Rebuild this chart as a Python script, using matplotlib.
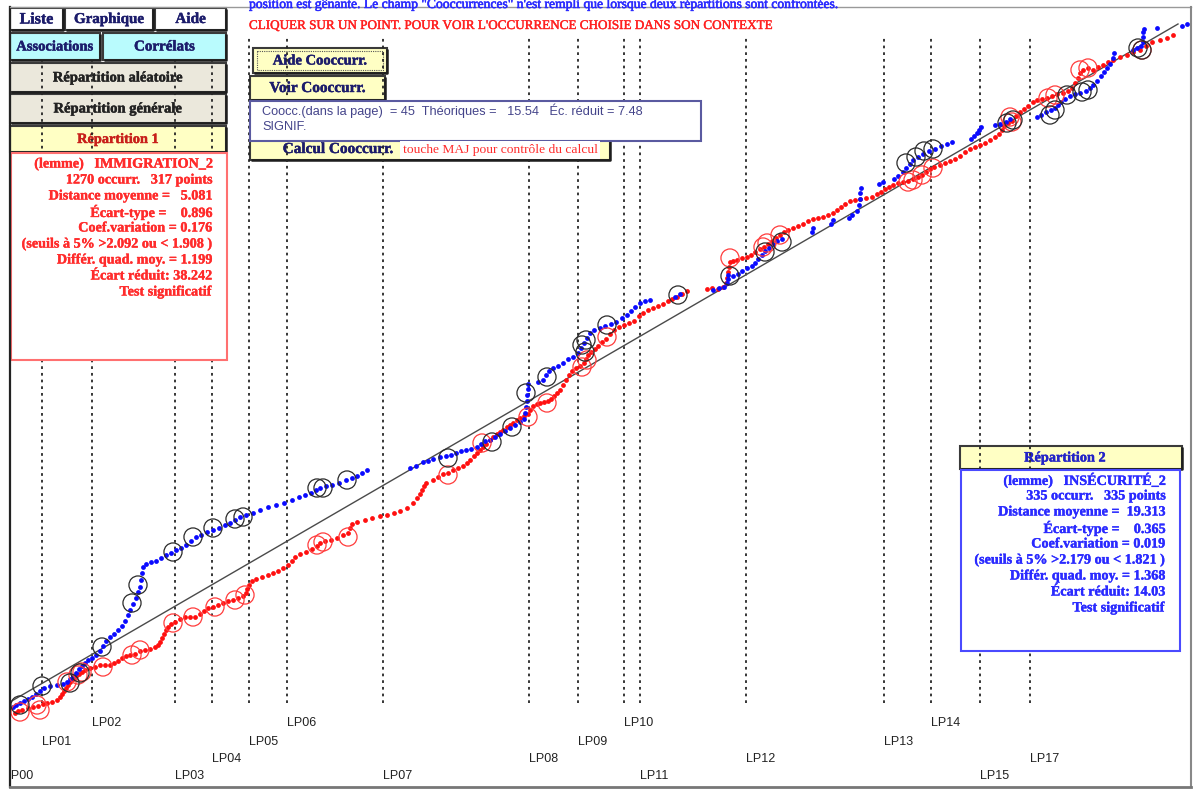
import numpy as np
import matplotlib
matplotlib.use("Agg")
import matplotlib.pyplot as plt
from matplotlib.patches import Rectangle
import matplotlib.patheffects as pe

# ---------------------------------------------------------------------------
# Data: position in the corpus (text units) and cumulative rank of each occurrence
# ---------------------------------------------------------------------------
# INSÉCURITÉ_2 (blue series)
insec_pos = [3, 6, 10, 14, 18, 22, 26, 30, 34, 40, 47, 53, 57, 60, 63, 66, 69, 72, 75, 78,
             82, 86, 90, 93, 96, 100, 104, 108, 112, 115, 118, 120, 123, 126, 128, 130, 131, 132,
             133, 136, 141, 146, 151, 156, 161, 166, 171, 176, 181, 186, 191, 197, 203, 209, 215,
             220, 225, 230, 236, 243, 250, 258, 266, 274, 282, 289, 295, 301, 306, 310, 316, 322,
             329, 336, 342, 347, 352, 357, 400, 406, 413, 418, 423, 430, 436, 441, 446, 451, 456,
             461, 467, 471, 475, 480, 485, 490, 495, 500, 505, 510, 514, 515, 516, 517, 517, 518,
             518, 528, 533, 536, 539, 543, 548, 553, 558, 563, 568, 571, 574, 577, 580, 584, 590,
             595, 601, 606, 612, 617, 621, 625, 630, 635, 640, 665, 670, 703, 709, 714, 717, 718,
             718, 723, 728, 732, 737, 742, 745, 748, 752, 755, 759, 763, 767, 772, 802, 803, 821,
             823, 839, 842, 847, 849, 850, 850, 851, 869, 873, 884, 888, 893, 896, 900, 903, 908,
             913, 919, 925, 931, 937, 942, 961, 964, 967, 969, 971, 985, 990, 996, 1000, 1027,
             1031, 1036, 1041, 1045, 1048, 1051, 1055, 1060, 1065, 1070, 1076, 1080, 1083, 1087,
             1091, 1094, 1097, 1100, 1103, 1104, 1123, 1127, 1131, 1133, 1133, 1133, 1134, 1147,
             1172, 1177]
insec_rank = [7, 9, 11, 13, 15, 17, 20, 23, 26, 28, 29, 30, 32, 35, 38, 41, 45, 48, 51, 54,
              56, 59, 63, 68, 73, 77, 80, 84, 88, 93, 99, 104, 110, 116, 122, 127, 134, 141,
              147, 150, 152, 153, 156, 159, 161, 164, 166, 169, 173, 177, 179, 182, 184, 186, 189,
              191, 194, 197, 199, 201, 204, 207, 209, 211, 214, 217, 219, 221, 224, 226, 228, 229,
              231, 234, 236, 238, 241, 244, 246, 248, 252, 253, 255, 257, 258, 259, 261, 263, 264,
              265, 267, 270, 273, 274, 277, 280, 283, 286, 289, 292, 295, 301, 307, 313, 319, 325,
              330, 332, 334, 339, 343, 346, 348, 351, 355, 357, 361, 366, 371, 376, 381, 384, 386,
              388, 390, 392, 396, 399, 403, 407, 411, 413, 414, 417, 420, 424, 426, 427, 431, 435,
              439, 438, 440, 443, 446, 448, 451, 455, 459, 463, 466, 470, 473, 475, 482, 486, 490,
              494, 496, 499, 503, 509, 515, 521, 526, 530, 532, 535, 538, 542, 546, 550, 554, 557,
              560, 563, 565, 568, 570, 572, 575, 578, 581, 584, 587, 589, 590, 592, 595, 597,
              599, 602, 604, 606, 609, 612, 615, 618, 620, 621, 623, 626, 629, 633,
              638, 642, 646, 650, 656, 661, 664, 666, 668, 672, 677, 682, 685, 686,
              688, 690]

# IMMIGRATION_2 (red series)
immig_pos = [5, 8, 12, 18, 23, 28, 33, 37, 42, 47, 50, 52, 54, 56, 58, 60, 63, 66, 69, 72,
             75, 80, 85, 90, 95, 100, 104, 108, 112, 116, 120, 125, 130, 135, 140, 145, 148, 150,
             152, 154, 156, 158, 161, 165, 170, 175, 180, 185, 190, 194, 198, 203, 208, 213, 218,
             223, 228, 233, 236, 237, 239, 242, 246, 252, 258, 263, 268, 273, 278, 282, 285, 290,
             296, 302, 307, 310, 315, 321, 327, 333, 338, 340, 342, 347, 355, 362, 370, 377, 384,
             390, 397, 403, 407, 410, 412, 414, 416, 423, 428, 433, 438, 443, 448, 453, 457, 460,
             464, 467, 470, 473, 476, 480, 483, 487, 490, 493, 497, 500, 503, 507, 510, 514, 518,
             520, 523, 527, 530, 534, 538, 541, 544, 547, 550, 553, 556, 559, 562, 566, 570, 574,
             576, 578, 581, 585, 588, 592, 596, 600, 604, 609, 614, 619, 624, 629, 633, 638, 643,
             648, 653, 658, 662, 667, 672, 677, 697, 702, 708, 713, 716, 717, 718, 719, 720, 723,
             727, 732, 737, 741, 745, 750, 754, 758, 762, 766, 770, 774, 778, 783, 788, 793, 798,
             803, 808, 813, 818, 823, 827, 831, 835, 840, 845, 850, 856, 862, 867, 871, 875, 879,
             883, 888, 893, 898, 903, 908, 912, 916, 920, 924, 930, 935, 940, 945, 950, 955, 960,
             965, 970, 975, 980, 985, 989, 992, 994, 998, 1002, 1006, 1010, 1014, 1018, 1023,
             1027, 1032, 1037, 1042, 1047, 1053, 1058, 1062, 1065, 1068, 1070, 1073, 1078, 1083,
             1088, 1093, 1098, 1103, 1110, 1117, 1123, 1130, 1136, 1142, 1150, 1157, 1163]
immig_rank = [1, 3, 4, 6, 7, 8, 10, 11, 12, 14, 17, 20, 23, 26, 29, 32, 35, 38, 40, 42,
              44, 46, 47, 49, 49, 49, 51, 53, 56, 58, 59, 60, 63, 64, 65, 67, 69, 72,
              76, 80, 84, 87, 90, 92, 95, 97, 97, 97, 100, 103, 106, 107, 109, 111, 113,
              114, 116, 118, 121, 125, 129, 133, 135, 137, 139, 141, 143, 146, 149, 153, 157, 160,
              162, 165, 168, 171, 173, 174, 176, 179, 181, 186, 190, 192, 194, 196, 198, 199, 201,
              203, 206, 211, 216, 220, 224, 228, 231, 234, 237, 240, 241, 244, 246, 248, 251, 254,
              258, 261, 264, 267, 270, 274, 277, 280, 282, 284, 287, 289, 291, 294, 296, 298, 300,
              304, 308, 310, 311, 312, 313, 315, 318, 321, 324, 329, 334, 339, 343, 346, 348, 351,
              355, 359, 362, 365, 368, 372, 375, 380, 384, 387, 389, 391, 393, 398, 401, 404, 406,
              408, 410, 413, 415, 417, 420, 423, 425, 426, 425, 427, 431, 436, 442, 447, 452, 453,
              454, 456, 457, 459, 462, 465, 467, 470, 473, 476, 479, 482, 484, 486, 488, 490, 493,
              495, 496, 497, 499, 501, 504, 507, 510, 513, 514, 515, 516, 517, 520, 522, 525, 527,
              529, 531, 532, 533, 535, 537, 539, 542, 545, 547, 549, 551, 553, 555, 558, 562,
              565, 567, 569, 571, 574, 577, 580, 584, 588, 591, 593, 598, 602, 605, 608, 612,
              614, 615, 616, 618, 620, 621, 623, 626, 631, 636, 641, 644, 646, 644,
              647, 649, 652, 654, 657, 659, 662, 664, 668, 672, 674, 676, 679]

# Co-occurrences (circled points)
cooc_insec_pos = [10, 32, 60, 70, 92, 122, 128, 163, 183, 203, 225, 233, 307, 313, 337, 438, 482,
                  502, 516, 537, 572, 576, 575, 597, 668, 720, 755, 772, 896, 906, 914, 923, 997,
                  1003, 1040, 1045, 1057, 1072, 1078, 1128, 1132]
cooc_insec_rank = [9, 28, 31, 41, 67, 111, 129, 162, 177, 186, 195, 197, 226, 226, 234, 256, 272,
                   287, 321, 337, 369, 374, 362, 389, 419, 438, 462, 472, 551, 557, 563, 565, 591,
                   594, 599, 604, 619, 622, 624, 666, 664]
cooc_immig_pos = [10, 27, 30, 57, 68, 72, 93, 122, 130, 163, 183, 205, 225, 235, 307, 313, 338,
                  438, 472, 518, 537, 572, 577, 597, 720, 753, 757, 770, 898, 903, 912, 923, 1000,
                  1002, 1038, 1045, 1070, 1078, 1132]
cooc_immig_rank = [2, 9, 4, 32, 39, 42, 47, 59, 64, 91, 97, 107, 114, 119, 169, 172, 177,
                   239, 271, 297, 311, 347, 354, 377, 456, 467, 471, 479, 532, 534, 539, 546, 597,
                   592, 616, 619, 644, 646, 664]

# Uniform (theoretical) distribution
ref_pos = [0, 1168]
ref_rank = [12, 690]

# Speech boundaries and their labels
section_pos = [0, 32, 82, 165, 202, 239, 277, 373, 519, 568, 614, 630, 736, 874, 921, 970, 1020]
section_labels = ["LP00", "LP01", "LP02", "LP03", "LP04", "LP05", "LP06", "LP07", "LP08",
                  "LP09", "LP10", "LP11", "LP12", "LP13", "LP14", "LP15", "LP17"]
section_row = [3, 1, 0, 3, 2, 1, 0, 3, 2, 1, 0, 3, 2, 1, 0, 3, 2]

stats_immig = ["(lemme)   IMMIGRATION_2", "1270 occurr.   317 points",
               "Distance moyenne =   5.081", "Écart-type =    0.896",
               "Coef.variation = 0.176", "(seuils à 5% >2.092 ou < 1.908 )",
               "Différ. quad. moy. = 1.199", "Écart réduit: 38.242", "Test significatif"]
stats_insec = ["(lemme)   INSÉCURITÉ_2", "335 occurr.   335 points",
               "Distance moyenne =  19.313", "Écart-type =    0.365",
               "Coef.variation = 0.019", "(seuils à 5% >2.179 ou < 1.821 )",
               "Différ. quad. moy. = 1.368", "Écart réduit: 14.03", "Test significatif"]
cooc_text = ["Coocc.(dans la page)  = 45  Théoriques =   15.54   Éc. réduit = 7.48", "SIGNIF."]

# ---------------------------------------------------------------------------
W, H = 1198, 789
fig = plt.figure(figsize=(W / 100, H / 100), dpi=100, facecolor="white")

SERIF = ["Liberation Serif", "DejaVu Serif"]
SANS = ["Liberation Sans", "DejaVu Sans"]
NAVY = "#1c1c6b"


def heavy(color, w=0.3):
    # slightly thicken glyph strokes (soft, screen-like rendering)
    return [pe.withStroke(linewidth=w, foreground=color)]


def ui_axes(z):
    a = fig.add_axes([0, 0, 1, 1])
    a.set_xlim(0, W)
    a.set_ylim(H, 0)
    a.axis("off")
    a.set_zorder(z)
    a.patch.set_visible(False)
    return a


def button(a, x0, y0, x1, y1, fc, label=None, color=NAVY, size=10.5, cx=None):
    a.add_patch(Rectangle((x0, y0), x1 - x0, y1 - y0, facecolor=fc, edgecolor="#3a3a3a", lw=1.5))
    # darker lower/right rim
    a.plot([x0 + 1, x1, x1], [y1, y1, y0 + 1], color="#1e1e1e", lw=1.8, solid_capstyle="butt")
    if label:
        a.text(cx if cx is not None else (x0 + x1) / 2, (y0 + y1) / 2 + 0.5, label,
               ha="center", va="center", color=color, fontsize=size,
               family=SERIF, weight="bold", path_effects=heavy(color))


# background widgets (the section lines pass over them)
ax_bg = ui_axes(0)
button(ax_bg, 10, 63, 226, 92, "#ebe8dc", "Répartition aléatoire", "#222222", 10.5)
button(ax_bg, 10, 94, 226, 123, "#ebe8dc", "Répartition générale", "#222222", 10.5)
button(ax_bg, 10, 126, 226, 152, "#ffffc4", "Répartition 1", "#c8201a", 10.3)
button(ax_bg, 960, 446, 1182, 469, "#ffffc4", "Répartition 2", "#2323c8", 10.3, cx=1065)
button(ax_bg, 253, 48, 387, 73, "#ffffc4", "Aide Cooccurr.", NAVY, 10.5)
ax_bg.add_patch(Rectangle((257, 51), 126, 19, facecolor="none", edgecolor="#555555",
                          lw=0.8, ls=(0, (1, 1))))
button(ax_bg, 250, 76, 385, 100, "#ffffc4", "Voir Cooccurr.", NAVY, 11)
button(ax_bg, 250, 138, 610, 160, "#ffffc4", "Calcul Cooccurr.", NAVY, 11, cx=338)

# main plot
ax = fig.add_axes([10 / W, 3 / H, 1180 / W, 778 / H])
ax.set_zorder(1)
ax.patch.set_visible(False)
ax.set_xlim(0, 1180)
ax.set_ylim(-72, 706)
ax.axis("off")

ax.vlines(section_pos[1:], 11, 678, colors="#262626", linestyles=(0, (1.5, 2.2)), lw=1.3)
ax.plot(ref_pos, ref_rank, color="#4a4a4a", lw=1.0)
ax.scatter(immig_pos, immig_rank, s=12, color="#ff1010", lw=0, zorder=3)
ax.scatter(insec_pos, insec_rank, s=12, color="#0a0aff", lw=0, zorder=4)
ax.scatter(cooc_immig_pos, cooc_immig_rank, s=170, facecolors="none",
           edgecolors="#ff3b3b", linewidths=0.9, zorder=5)
ax.scatter(cooc_insec_pos, cooc_insec_rank, s=170, facecolors="none",
           edgecolors="#2a2a2a", linewidths=0.9, zorder=6)

row_y = [-9, -28, -45, -62]
for p, lab, r in zip(section_pos, section_labels, section_row):
    x = p if p > 0 else -6
    ax.text(x, row_y[r], lab, ha="left", va="center", fontsize=9, family=SANS,
            color="#222222", clip_on=True)

# foreground widgets
ax_fg = ui_axes(2)
button(ax_fg, 10, 8, 63, 30, "white", "Liste", NAVY, 11.5)
button(ax_fg, 65, 8, 153, 30, "white", "Graphique", NAVY, 10.8)
button(ax_fg, 155, 8, 226, 30, "white", "Aide", NAVY, 11)
button(ax_fg, 10, 33, 100, 60, "#b9fbfd", "Associations", NAVY, 10.5)
button(ax_fg, 103, 33, 226, 60, "#b9fbfd", "Corrélats", NAVY, 10.8)

# statistics panels
ax_fg.add_patch(Rectangle((11, 153), 216, 207, facecolor="white", edgecolor="#ff7070", lw=1.5))
for i, line in enumerate(stats_immig):
    ax_fg.text(212, 164 + 16 * i, line, ha="right", va="center", color="#ff2b2b",
               fontsize=10.2, family=SERIF, weight="bold", path_effects=heavy("#ff2b2b", 0.25))
ax_fg.add_patch(Rectangle((961, 470), 219, 181, facecolor="white", edgecolor="#4a4aff", lw=1.5))
for i, line in enumerate(stats_insec):
    ax_fg.text(1165, 480 + 16 * i, line, ha="right", va="center", color="#2a2aff",
               fontsize=10.2, family=SERIF, weight="bold", path_effects=heavy("#2a2aff", 0.25))

# co-occurrence summary
ax_fg.add_patch(Rectangle((250, 101), 451, 40, facecolor="white", edgecolor="#5a5aa0", lw=1.5))
ax_fg.text(262, 111, cooc_text[0], ha="left", va="center", color="#44448a",
           fontsize=9.2, family=SANS)
ax_fg.text(262, 127, cooc_text[1], ha="left", va="center", color="#44448a",
           fontsize=9.2, family=SANS)
ax_fg.add_patch(Rectangle((400, 141), 200, 18, facecolor="white", edgecolor="none"))
ax_fg.text(403, 150, "touche MAJ pour contrôle du calcul", ha="left", va="center",
           color="#ff2b2b", fontsize=9.7, family=SERIF)

# header messages (the first one scrolls past the top of the window)
ax_fg.text(249, 8, "position est gênante. Le champ \"Cooccurrences\" n'est rempli que lorsque "
           "deux répartitions sont confrontées.", ha="left", va="baseline",
           color="#2a2aff", fontsize=9.8, family=SERIF, path_effects=heavy("#2a2aff", 0.4))
ax_fg.text(249, 29, "CLIQUER SUR UN POINT. POUR VOIR L'OCCURRENCE CHOISIE DANS SON CONTEXTE",
           ha="left", va="baseline", color="#ff2020", fontsize=9.45, family=SERIF,
           path_effects=heavy("#ff2020", 0.3))

# window frame
ax_fg.plot([9.5, 9.5], [7, 787], color="#222222", lw=1.6)
ax_fg.plot([9.5, 1191], [7, 7], color="#999999", lw=1.0)
ax_fg.plot([1191, 1191], [7, 787], color="#888888", lw=1.5)
ax_fg.plot([9.5, 1191], [786.5, 786.5], color="#777777", lw=2.0)

fig.savefig("out.png", dpi=100, facecolor="white")
